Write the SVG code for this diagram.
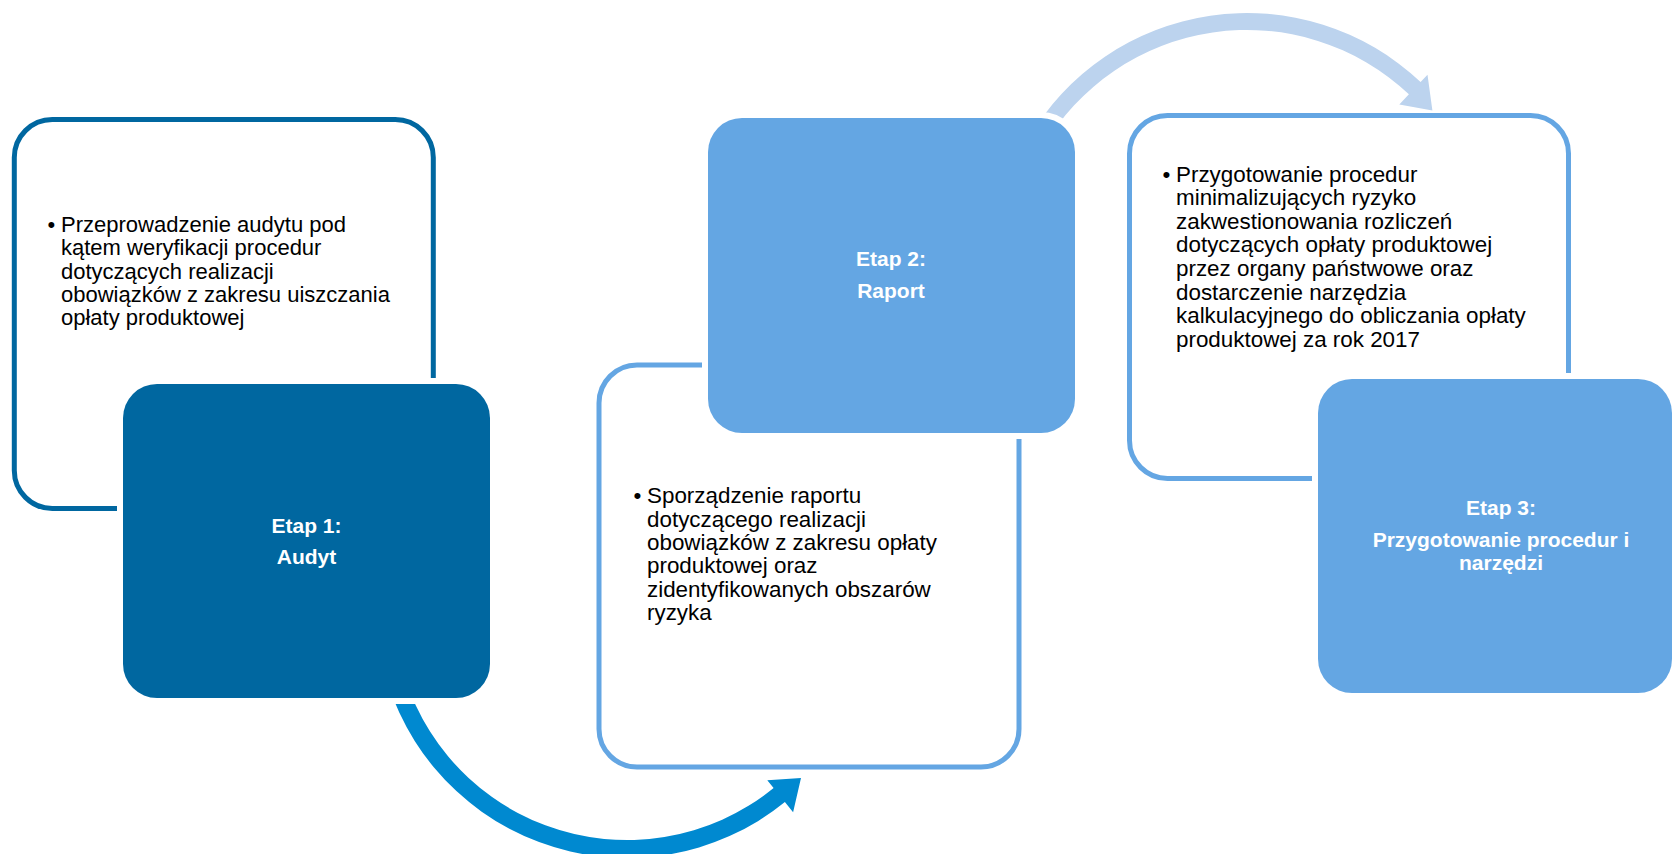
<svg xmlns="http://www.w3.org/2000/svg" width="1674" height="854" viewBox="0 0 1674 854">
<style>
.outline{fill:none;stroke-width:5}
.fill{stroke:#ffffff;stroke-width:12;paint-order:stroke}
.body{font-family:"Liberation Sans",Arial,sans-serif;fill:#000000}
.label{font-family:"Liberation Sans",Arial,sans-serif;font-weight:bold;font-size:21px;fill:#ffffff;text-anchor:middle}
</style>
<rect width="1674" height="854" fill="#ffffff"/>
<g id="box1-outline"><rect class="outline" x="14.3" y="119.5" width="419" height="389" rx="38" stroke="#0067A0"/></g>
<g id="box2-outline"><rect class="outline" x="599" y="365" width="420" height="402" rx="38" stroke="#64A6E3"/></g>
<g id="box3-outline"><rect class="outline" x="1129.5" y="115.5" width="439" height="363" rx="38" stroke="#64A6E3"/></g>
<g id="connectors">
<path d="M 379.8 650.6 A 251 251 0 0 0 784.9 802.1 L 793.1 812.2 L 801 778 L 767.3 780.3 L 773.6 788.1 A 233 233 0 0 1 397.5 647.5 Z" fill="#0089D0"/>
<path d="M 1027.9 139.5 A 253 253 0 0 1 1420.6 82 L 1427.5 74.7 L 1432.4 110.4 L 1399.3 104.5 L 1408.9 94.3 A 236 236 0 0 0 1042.6 148 Z" fill="#BCD3EE"/>
</g>
<g id="etap1">
<rect class="fill" x="123" y="384" width="367" height="314" rx="34" fill="#0067A0"/>
<text class="label"><tspan x="306.5" y="533">Etap 1:</tspan><tspan x="306.5" y="564">Audyt</tspan></text>
</g>
<g id="etap1-text">
<text class="body" font-size="22"><tspan x="47.5" y="232">•</tspan><tspan x="61" y="232">Przeprowadzenie audytu pod</tspan><tspan x="61" y="255.3">kątem weryfikacji procedur</tspan><tspan x="61" y="278.6">dotyczących realizacji</tspan><tspan x="61" y="302">obowiązków z zakresu uiszczania</tspan><tspan x="61" y="325.3">opłaty produktowej</tspan></text>
</g>
<g id="etap2">
<rect class="fill" x="708" y="118" width="367" height="315" rx="34" fill="#64A6E3"/>
<text class="label"><tspan x="891" y="266">Etap 2:</tspan><tspan x="891" y="298">Raport</tspan></text>
</g>
<g id="etap2-text">
<text class="body" font-size="22.4"><tspan x="633.5" y="503.3">•</tspan><tspan x="647" y="503.3">Sporządzenie raportu</tspan><tspan x="647" y="526.6">dotyczącego realizacji</tspan><tspan x="647" y="550">obowiązków z zakresu opłaty</tspan><tspan x="647" y="573.3">produktowej oraz</tspan><tspan x="647" y="596.6">zidentyfikowanych obszarów</tspan><tspan x="647" y="620">ryzyka</tspan></text>
</g>
<g id="etap3">
<rect class="fill" x="1318" y="379" width="354" height="314" rx="34" fill="#64A6E3"/>
<text class="label"><tspan x="1501" y="515">Etap 3:</tspan><tspan x="1501" y="547">Przygotowanie procedur i</tspan><tspan x="1501" y="570">narzędzi</tspan></text>
</g>
<g id="etap3-text">
<text class="body" font-size="22.4"><tspan x="1162.5" y="181.7">•</tspan><tspan x="1176" y="181.7">Przygotowanie procedur</tspan><tspan x="1176" y="205.3">minimalizujących ryzyko</tspan><tspan x="1176" y="228.9">zakwestionowania rozliczeń</tspan><tspan x="1176" y="252.4">dotyczących opłaty produktowej</tspan><tspan x="1176" y="276">przez organy państwowe oraz</tspan><tspan x="1176" y="299.6">dostarczenie narzędzia</tspan><tspan x="1176" y="323.1">kalkulacyjnego do obliczania opłaty</tspan><tspan x="1176" y="346.7">produktowej za rok 2017</tspan></text>
</g>
</svg>
